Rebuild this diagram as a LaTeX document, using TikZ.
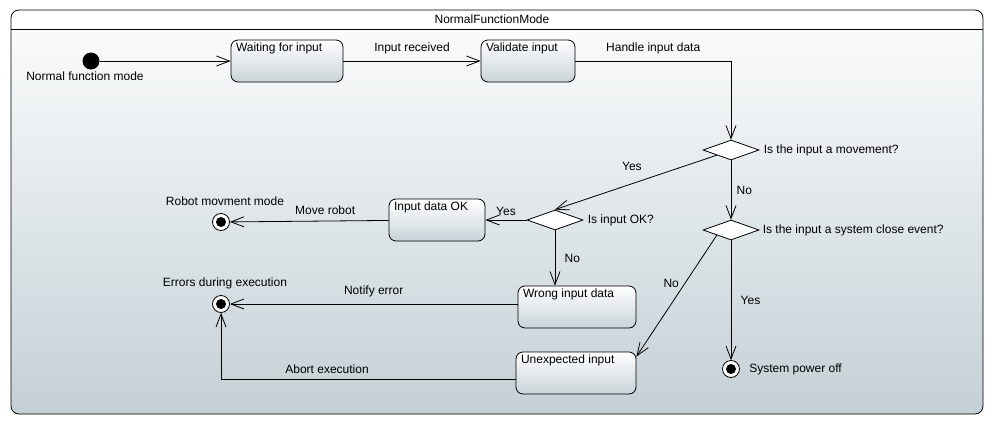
\documentclass[tikz,border=0pt]{standalone}
\usepackage{fontspec}
\setmainfont{Liberation Sans}
\usepackage{tikz}
\usetikzlibrary{shapes.geometric,arrows.meta,positioning,calc}
\definecolor{boxgray}{HTML}{C9D3D8}
\definecolor{framegray}{HTML}{C4D0D6}
\definecolor{frametop}{HTML}{FAFBFB}

\begin{document}
\begin{tikzpicture}[
x=1pt,y=-1pt,
font=\fontsize{12}{14}\selectfont,
>={Straight Barb[length=13pt,width=10pt]},
every path/.style={line width=0.8pt},
initial/.style={
  circle,
  fill=black,
  minimum size=17pt,
  inner sep=0pt
},
final/.style={
  circle,
  draw,
  fill=white,
  minimum size=17pt,
  inner sep=0pt,
  path picture={\fill[black] (path picture bounding box.center) circle (5pt);}
},
statebox/.style={
  draw,
  rounded corners=7pt,
  top color=white,
  bottom color=boxgray,
  minimum height=42pt,
  inner sep=0pt,
  label={[anchor=north west,inner sep=1pt,xshift=4pt,yshift=-2pt]north west:#1}
},
choice/.style={
  diamond,
  draw,
  fill=white,
  minimum width=56pt,
  minimum height=20pt,
  inner sep=0pt
}
]
\useasboundingbox (0,0) rectangle (994,426);

% frame of the mode
\path[top color=frametop,bottom color=framegray,rounded corners=8pt]
  (11,29) -- (983,29) -- (983,414) -- (11,414) -- cycle;
\path[fill=white,rounded corners=8pt]
  (11,29) -- (11,10) -- (983,10) -- (983,29) -- cycle;
\draw[rounded corners=8pt] (11,10) rectangle (983,414);
\draw (11,29) -- (983,29);
\node (title) at (492,19) {NormalFunctionMode};

% states
\node[initial,label={[xshift=-6pt,inner sep=2pt]below:Normal function mode}]
  (init) at (91,61) {};
\node[statebox=Waiting for input,minimum width=112pt]
  (wait) at (287,61) {};
\node[statebox=Validate input,minimum width=94pt]
  (valid) at (528,61) {};
\node[choice,label={[anchor=west,inner sep=1pt,xshift=3pt]east:Is the input a movement?}]
  (move) at (731,150) {};
\node[choice,label={[anchor=west,inner sep=1pt,xshift=2pt]east:Is the input a system close event?}]
  (close) at (731,230) {};
\node[choice,label={[anchor=west,inner sep=1pt,xshift=3pt]east:Is input OK?}]
  (ok) at (555,220) {};
\node[statebox=Input data OK,minimum width=96pt]
  (okdata) at (437,220) {};
\node[statebox=Wrong input data,minimum width=118pt]
  (wrong) at (577,307) {};
\node[statebox=Unexpected input,minimum width=120pt]
  (unexp) at (576,373) {};
\node[final,label={[label distance=7pt,xshift=4pt,inner sep=0pt]above:Robot movment mode}]
  (robot) at (221,222) {};
\node[final,label={[label distance=6pt,xshift=4pt,inner sep=0pt]above:Errors during execution}]
  (err) at (221,304) {};
\node[final,label={[label distance=9pt,inner sep=0pt]right:System power off}]
  (off) at (731,369) {};

% transitions
\draw[->] (init) -- (wait);
\draw[->] (wait) -- node[above=3pt] {Input received} (valid);
\draw[->] (valid) -| node[pos=0.25,above=3pt] {Handle input data} (move);
\draw[->] (move.south west) -- node[above=8pt,xshift=-4pt] {Yes} (ok.north);
\draw[->] (move) -- node[right=2pt] {No} (close);
\draw[->] (ok) -- node[above=1pt] {Yes} (okdata);
\draw[->] (okdata) -- node[pos=0.4,above=3pt] {Move robot} (robot);
\draw[->] (ok.south) -- node[right=6pt] {No} (ok.south |- wrong.north);
\draw[->] (wrong.west |- err) -- node[above=3pt] {Notify error} (err);
\draw[->] ([yshift=-6pt]unexp.west) -| node[pos=0.32,above=2pt] {Abort execution} (err);
\draw[->] (close.south west) -- node[pos=0.4,left=2pt] {No} ([yshift=-5pt]unexp.north east);
\draw[->] (close) -- node[right=6pt] {Yes} (off);
\end{tikzpicture}
\end{document}
